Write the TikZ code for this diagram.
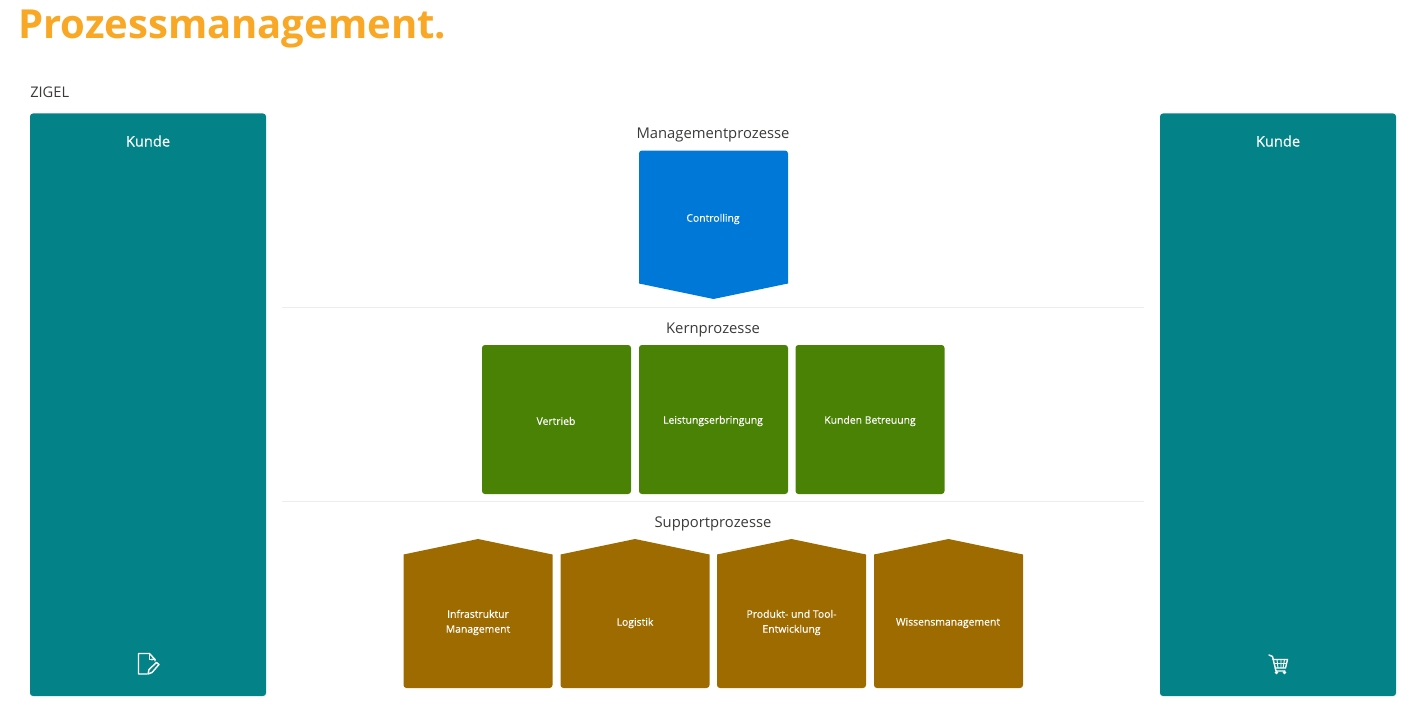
\documentclass[tikz,border=0pt]{standalone}
\usepackage{fontspec}
\setmainfont{Open Sans}
\newfontfamily\smallface[FakeBold=0.25]{Open Sans}
\definecolor{teal1}{HTML}{038387}
\definecolor{blue1}{HTML}{0078D7}
\definecolor{green1}{HTML}{498205}
\definecolor{brown1}{HTML}{9E6B00}
\definecolor{title1}{HTML}{F9A825}
\definecolor{text1}{HTML}{3B3A39}
\definecolor{rule1}{HTML}{EDEDED}
\tikzset{
  x=0.75pt,y=-0.75pt,
  head/.style={font=\fontsize{11.1pt}{13pt}\selectfont,text=text1,inner sep=0,anchor=center},
  kundetxt/.style={font=\smallface\fontsize{11pt}{13pt}\selectfont,text=white,inner sep=0,anchor=center},
  boxtxt/.style={font=\smallface\fontsize{7.8pt}{11.2pt}\selectfont,text=white,inner sep=0,anchor=center,align=center},
  sidebox/.style={fill=teal1,rounded corners=2.2pt},
  tile/.style={rounded corners=2.2pt},
  sep/.style={draw=rule1,line width=0.75pt},
  icon/.style={draw=white,line width=1.05pt,line join=round,line cap=round},
}
\begin{document}
\begin{tikzpicture}
\useasboundingbox (0,0) rectangle (1425,717);
\node[font=\fontsize{30pt}{36pt}\selectfont\bfseries,text=title1,inner sep=0,anchor=west] (title) at (18,29) {Prozessmanagement.};
\node[font=\fontsize{11pt}{13pt}\selectfont,text=text1,inner sep=0,anchor=west] (zigel) at (30,92.5) {ZIGEL};
% customers
\fill[sidebox] (30,113.5) rectangle (266,696);
\fill[sidebox] (1160,113.5) rectangle (1396,696);
\node[kundetxt] (k1) at (148,141) {Kunde};
\node[kundetxt] (k2) at (1278,141) {Kunde};
% headings
\node[head] (h1) at (713,135) {Managementprozesse};
\node[head] (h2) at (713,329.5) {Kernprozesse};
\node[head] (h3) at (713,524) {Supportprozesse};
% separators
\draw[sep] (282,307.5) -- (1144,307.5);
\draw[sep] (282,501.5) -- (1144,501.5);
% management
\fill[blue1] (639,283.5) -- (639,153) [rounded corners=2.2pt] -- (639,150.5) -- (788,150.5) [sharp corners] -- (788,283.5) -- (713.5,299) -- cycle;
\node[boxtxt] (c) at (713,219) {Controlling};
% core
\foreach \x in {482,639,795.5}{
  \fill[green1,tile] (\x,345) rectangle (\x+149,494);
}
\node[boxtxt] (v) at (556,421) {Vertrieb};
\node[boxtxt] (l) at (713,421) {Leistungserbringung};
\node[boxtxt] (kb) at (870,421) {Kunden Betreuung};
% support
\foreach \x in {403.5,560.5,717,874}{
  \fill[brown1] (\x,554.5) -- (\x+74.5,539) -- (\x+149,554.5) [rounded corners=2.2pt] -- (\x+149,688) -- (\x,688) [sharp corners] -- cycle;
}
\node[boxtxt] (s1) at (478,622.5) {Infrastruktur\\Management};
\node[boxtxt] (s2) at (635,623) {Logistik};
\node[boxtxt] (s3) at (791.5,622.5) {Produkt- und Tool-\\Entwicklung};
\node[boxtxt] (s4) at (948,623) {Wissensmanagement};
% document icon
\draw[icon] (152,659) -- (152,660) (147,674) -- (138.5,674) -- (138.5,653.5) -- (149.5,653.5) -- (155,659.5) -- (155,661);
\draw[icon] (149.5,653.5) -- (149.5,659.5) -- (155,659.5);
\draw[icon] (148,674) -- (149,669.5) -- (156.5,662.5) -- (159,664.5) -- (152,672.5) -- cycle;
% cart icon
\draw[icon] (1269,655) -- (1272.5,656.5) -- (1276,671) -- (1285,671);
\draw[icon] (1273,659.5) -- (1287.5,659.5) -- (1285.5,668) -- (1275,668);
\draw[icon,line width=0.7pt] (1277,659.5) -- (1278,668) (1281,659.5) -- (1281,668) (1284.5,659.5) -- (1283,668) (1274,663.5) -- (1286.5,663.5);
\fill[white] (1276.5,672.5) circle (1.9) (1284.5,672.5) circle (1.9);
\end{tikzpicture}
\end{document}
